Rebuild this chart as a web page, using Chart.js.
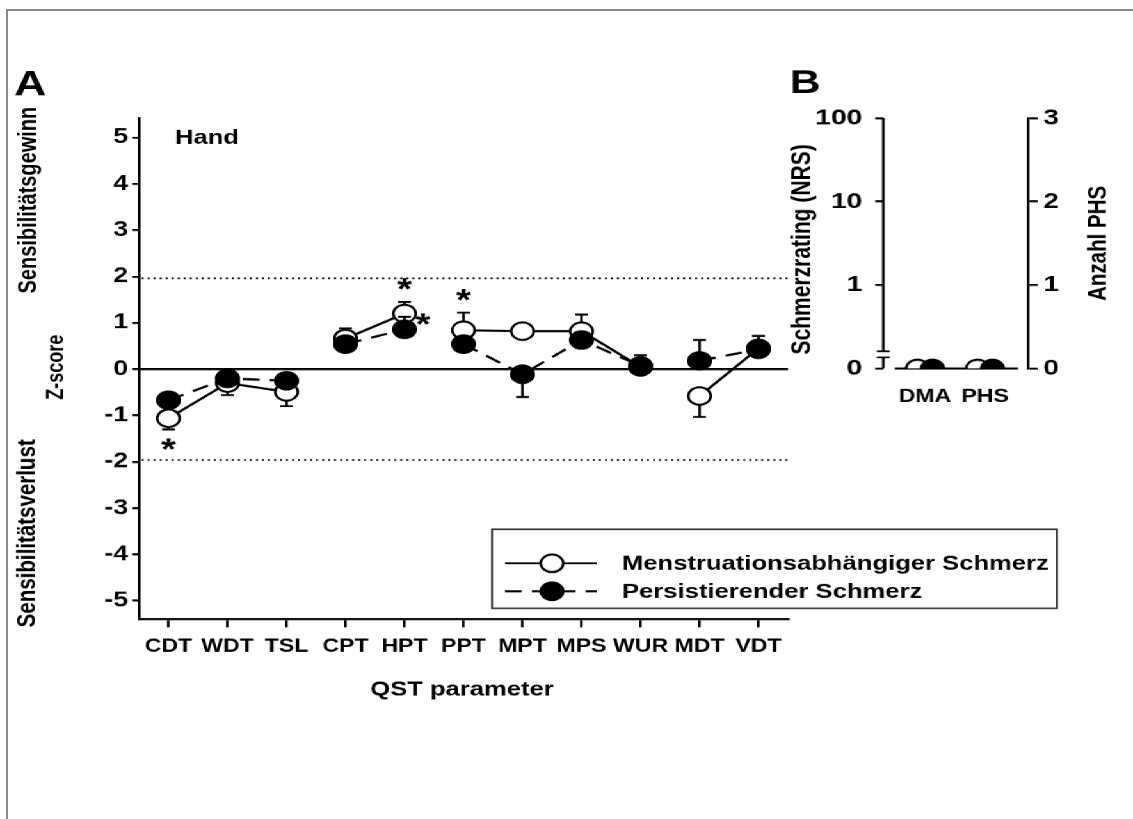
<!DOCTYPE html>
<html>
<head>
<meta charset="utf-8">
<script src="https://cdn.jsdelivr.net/npm/chart.js@4.4.0/dist/chart.umd.min.js"></script>
<style>
  html, body { margin: 0; padding: 0; background: #fff; }
  body { width: 1133px; height: 819px; overflow: hidden; position: relative; }
  #frame { position: absolute; left: 6px; top: 9px; width: 1200px; height: 900px;
           border-left: 2px solid #8a8a8a; border-top: 2px solid #8a8a8a; }
  #stage { position: absolute; left: 0; top: 0; width: 885px; height: 819px;
           transform: scaleX(1.2802); transform-origin: 0 0; }
  #cA { position: absolute; left: 0; top: 0; }
  #cB { position: absolute; left: 600px; top: 0; }
</style>
</head>
<body>
<div id="frame"></div>
<div id="stage">
  <canvas id="cA" width="885" height="819"></canvas>
  <canvas id="cB" width="285" height="420"></canvas>
</div>
<script>
// ---------------- data ----------------
const categories = ['CDT', 'WDT', 'TSL', 'CPT', 'HPT', 'PPT', 'MPT', 'MPS', 'WUR', 'MDT', 'VDT'];
const lineGroups = [1, 1, 1, 2, 2, 3, 3, 3, 3, 4, 4];
const menstrualMean = [-1.06, -0.30, -0.49, 0.66, 1.20, 0.84, 0.82, 0.82, 0.05, -0.58, 0.45];
const menstrualSem  = [0.24, 0.26, 0.31, 0.22, 0.25, 0.38, 0.10, 0.36, 0.10, 0.45, 0.10];
const persistentMean = [-0.67, -0.20, -0.25, 0.54, 0.86, 0.54, -0.11, 0.63, 0.07, 0.18, 0.43];
const persistentSem  = [0.10, 0.10, 0.10, 0.10, 0.27, 0.10, 0.49, 0.10, 0.23, 0.45, 0.29];
const zTicks = [-5, -4, -3, -2, -1, 0, 1, 2, 3, 4, 5];
const normLimits = [1.96, -1.96];
const seriesLabels = ['Menstruationsabhängiger Schmerz', 'Persistierender Schmerz'];
const significance = [
  { cat: 'CDT', series: 0, side: 'end' },
  { cat: 'HPT', series: 0, side: 'end' },
  { cat: 'HPT', series: 1, side: 'right' },
  { cat: 'PPT', series: 0, side: 'end' }
];

const bCategories = ['DMA', 'PHS'];
const bMenstrual = [0, 0];
const bPersistent = [0, 0];
const bLeftTicks = [0, 1, 2, 3];
const bLeftTickLabels = ['0', '1', '10', '100'];
const bRightTicks = [0, 1, 2, 3];
const bRightTickLabels = ['0', '1', '2', '3'];

// ---------------- layout / style ----------------
const FONT = '"Liberation Sans", Arial, Helvetica, sans-serif';
const K = 1133 / 885;              // horizontal stretch of the whole figure
const sx = v => v / K;             // page x -> stage x
const B_LEFT = 600;                // stage x of canvas B
const CAP = 5;
const R = 8.8;
const DASH = [13, 8];

// ---------------- panel A ----------------
const panelAPlugin = {
  id: 'panelA',
  beforeDatasetsDraw(chart) {
    const { ctx, chartArea: a, scales: { y } } = chart;
    ctx.save();
    ctx.strokeStyle = '#000';
    ctx.lineWidth = 2;
    const y0 = y.getPixelForValue(0);
    ctx.beginPath(); ctx.moveTo(a.left, y0); ctx.lineTo(a.right, y0); ctx.stroke();
    ctx.setLineDash([1.6, 3.1]);
    ctx.lineWidth = 1.8;
    normLimits.forEach(v => {
      const yy = y.getPixelForValue(v);
      ctx.beginPath(); ctx.moveTo(a.left + 2, yy); ctx.lineTo(a.right, yy); ctx.stroke();
    });
    ctx.restore();
  },
  beforeDatasetDraw(chart, args) {
    const ds = chart.data.datasets[args.index];
    if (!ds.errors) return;
    const { ctx, scales: { y } } = chart;
    ctx.save();
    ctx.strokeStyle = '#000';
    ctx.lineWidth = 2;
    ctx.setLineDash([]);
    args.meta.data.forEach((pt, j) => {
      const m = ds.data[j], e = ds.errors[j], dir = m >= 0 ? 1 : -1;
      const y1 = y.getPixelForValue(m), y2 = y.getPixelForValue(m + dir * e);
      ctx.beginPath();
      ctx.moveTo(pt.x, y1); ctx.lineTo(pt.x, y2);
      ctx.moveTo(pt.x - CAP, y2); ctx.lineTo(pt.x + CAP, y2);
      ctx.stroke();
    });
    ctx.restore();
  },
  afterDraw(chart) {
    const { ctx, scales: { x, y } } = chart;
    const dsets = chart.data.datasets;
    ctx.save();
    ctx.fillStyle = '#000';
    // panel letter
    ctx.font = `bold 35px ${FONT}`;
    ctx.textAlign = 'left'; ctx.textBaseline = 'alphabetic';
    ctx.fillText('A', sx(14), 95);
    // Hand
    ctx.font = `bold 20px ${FONT}`;
    ctx.fillText('Hand', sx(175), 144);
    // x title
    ctx.textAlign = 'center';
    ctx.font = `bold 20px ${FONT}`;
    ctx.fillText('QST parameter', sx(462), 695);
    // rotated titles
    const rot = (t, bx, cy, size) => {
      ctx.save();
      ctx.translate(bx, cy); ctx.rotate(-Math.PI / 2);
      ctx.font = `bold ${size}px ${FONT}`;
      ctx.textAlign = 'center'; ctx.textBaseline = 'alphabetic';
      ctx.fillText(t, 0, 0);
      ctx.restore();
    };
    rot('Sensibilitätsgewinn', sx(36), 200, 20);
    rot('Sensibilitätsverlust', sx(35), 533, 20.5);
    rot('Z-score', sx(63), 367, 18);
    // asterisks
    ctx.font = `bold 30px ${FONT}`;
    ctx.textAlign = 'center'; ctx.textBaseline = 'alphabetic';
    const mm = ctx.measureText('*');
    const asc = mm.actualBoundingBoxAscent, desc = mm.actualBoundingBoxDescent;
    const drawStar = (cx, cy) => ctx.fillText('*', cx, cy - (desc - asc) / 2);
    significance.forEach(s => {
      const j = categories.indexOf(s.cat);
      const ds = dsets[s.series];
      const m = ds.data[j], e = ds.errors[j], dir = m >= 0 ? 1 : -1;
      const px = x.getPixelForValue(j);
      if (s.side === 'end') {
        const yEnd = y.getPixelForValue(m + dir * e);
        drawStar(px, yEnd - dir * 16.5);
      } else {
        drawStar(px + 14.5, y.getPixelForValue(m) - 9);
      }
    });
    // legend
    ctx.strokeStyle = '#333';
    ctx.lineWidth = 1.5;
    ctx.strokeRect(sx(492), 529, sx(1057) - sx(492), 79);
    const rows = [563, 591];
    dsets.forEach((ds, i) => {
      const ly = rows[i];
      ctx.strokeStyle = '#000'; ctx.lineWidth = 2;
      ctx.setLineDash(ds.borderDash || []);
      ctx.beginPath(); ctx.moveTo(sx(505), ly); ctx.lineTo(sx(597), ly); ctx.stroke();
      ctx.setLineDash([]);
      ctx.beginPath(); ctx.arc(sx(552), ly, R, 0, Math.PI * 2);
      ctx.fillStyle = ds.pointBackgroundColor; ctx.fill();
      ctx.lineWidth = 2; ctx.stroke();
      ctx.fillStyle = '#000';
      ctx.font = `bold 20px ${FONT}`;
      ctx.textAlign = 'left'; ctx.textBaseline = 'middle';
      ctx.fillText(ds.label, sx(622), ly + 1);
    });
    ctx.restore();
  }
};

const segColor = c => lineGroups[c.p0DataIndex] === lineGroups[c.p1DataIndex] ? '#000' : 'rgba(0,0,0,0)';

new Chart(document.getElementById('cA'), {
  type: 'line',
  data: {
    labels: categories,
    datasets: [
      {
        label: seriesLabels[0], data: menstrualMean, errors: menstrualSem, order: 2,
        borderColor: '#000', borderWidth: 2.2, segment: { borderColor: segColor },
        pointRadius: R, pointBorderWidth: 2, pointBackgroundColor: '#fff', pointBorderColor: '#000',
        fill: false, tension: 0
      },
      {
        label: seriesLabels[1], data: persistentMean, errors: persistentSem, order: 1,
        borderColor: '#000', borderWidth: 2.2, borderDash: DASH, segment: { borderColor: segColor },
        pointRadius: R, pointBorderWidth: 2, pointBackgroundColor: '#000', pointBorderColor: '#000',
        fill: false, tension: 0
      }
    ]
  },
  options: {
    responsive: false, animation: false, devicePixelRatio: K, events: [],
    layout: { padding: { left: 0, top: 118, right: 885 - sx(788), bottom: 0 } },
    plugins: { legend: { display: false }, tooltip: { enabled: false } },
    scales: {
      x: {
        type: 'category', offset: true,
        afterFit: s => { s.height = 819 - 619; },
        grid: { display: true, drawOnChartArea: false, drawTicks: true, tickLength: 8, color: '#000', lineWidth: 2, offset: false },
        border: { display: true, color: '#000', width: 2 },
        ticks: { color: '#000', font: { family: FONT, size: 18, weight: 'bold' }, padding: 9, maxRotation: 0, autoSkip: false }
      },
      y: {
        type: 'linear', min: -5.4, max: 5.42,
        afterFit: s => { s.width = sx(139); },
        afterBuildTicks: s => { s.ticks = zTicks.map(v => ({ value: v })); },
        grid: { display: true, drawOnChartArea: false, drawTicks: true, tickLength: 5.5, color: '#000', lineWidth: 2 },
        border: { display: true, color: '#000', width: 2 },
        ticks: { color: '#000', font: { family: FONT, size: 21, weight: 'bold' }, padding: 3, callback: v => String(v) }
      }
    }
  },
  plugins: [panelAPlugin]
});

// ---------------- panel B ----------------
const bDodge = 0.125;
const bAreaLeft = sx(883) - B_LEFT;
const bAreaRight = sx(1027) - B_LEFT;

const panelBPlugin = {
  id: 'panelB',
  beforeDatasetsDraw(chart) {
    const { ctx, chartArea: a, scales: { x, y } } = chart;
    ctx.save();
    ctx.strokeStyle = '#000';
    ctx.lineWidth = 2;
    // left axis with break
    const yTop = y.getPixelForValue(3), yBot = y.getPixelForValue(0);
    const yBrk = y.getPixelForValue(0.17);
    ctx.beginPath();
    ctx.moveTo(a.left, yTop); ctx.lineTo(a.left, yBrk - 3.5);
    ctx.moveTo(a.left, yBrk + 3.5); ctx.lineTo(a.left, yBot);
    ctx.stroke();
    ctx.lineWidth = 1.8;
    ctx.beginPath();
    ctx.moveTo(a.left - 5, yBrk - 3); ctx.lineTo(a.left + 5, yBrk - 3);
    ctx.moveTo(a.left - 5, yBrk + 3); ctx.lineTo(a.left + 5, yBrk + 3);
    ctx.stroke();
    // baseline through the points
    ctx.lineWidth = 2;
    ctx.beginPath();
    ctx.moveTo(x.getPixelForValue(-0.5), yBot); ctx.lineTo(x.getPixelForValue(1.55), yBot);
    ctx.stroke();
    ctx.restore();
  },
  afterDraw(chart) {
    const { ctx } = chart;
    ctx.save();
    ctx.fillStyle = '#000';
    ctx.font = `bold 33px ${FONT}`;
    ctx.textAlign = 'left'; ctx.textBaseline = 'alphabetic';
    ctx.fillText('B', sx(790) - B_LEFT, 93);
    const rot = (t, bx, cy, size) => {
      ctx.save();
      ctx.translate(bx, cy); ctx.rotate(-Math.PI / 2);
      ctx.font = `bold ${size}px ${FONT}`;
      ctx.textAlign = 'center'; ctx.textBaseline = 'alphabetic';
      ctx.fillText(t, 0, 0);
      ctx.restore();
    };
    rot('Schmerzrating (NRS)', sx(810) - B_LEFT, 249, 21);
    rot('Anzahl PHS', sx(1105) - B_LEFT, 243, 20.5);
    ctx.restore();
  }
};

new Chart(document.getElementById('cB'), {
  type: 'line',
  data: {
    datasets: [
      {
        label: seriesLabels[0], order: 2, showLine: false,
        data: bMenstrual.map((v, i) => ({ x: i - bDodge, y: v })),
        pointRadius: R, pointBorderWidth: 2, pointBackgroundColor: '#fff', pointBorderColor: '#000'
      },
      {
        label: seriesLabels[1], order: 1, showLine: false,
        data: bPersistent.map((v, i) => ({ x: i + bDodge, y: v })),
        pointRadius: R, pointBorderWidth: 2, pointBackgroundColor: '#000', pointBorderColor: '#000'
      }
    ]
  },
  options: {
    responsive: false, animation: false, devicePixelRatio: K, events: [],
    layout: { padding: { left: 0, top: 118, right: 0, bottom: 0 } },
    plugins: { legend: { display: false }, tooltip: { enabled: false } },
    scales: {
      x: {
        type: 'linear', min: -0.694, max: 1.709,
        afterFit: s => { s.height = 420 - 368; },
        afterBuildTicks: s => { s.ticks = bCategories.map((c, i) => ({ value: i })); },
        grid: { display: false, drawTicks: false },
        border: { display: false },
        ticks: { color: '#000', font: { family: FONT, size: 18, weight: 'bold' }, padding: 18,
                 callback: (v, i) => bCategories[i] }
      },
      y: {
        type: 'linear', position: 'left', min: 0, max: 3,
        afterFit: s => { s.width = bAreaLeft; },
        afterBuildTicks: s => { s.ticks = bLeftTicks.map(v => ({ value: v })); },
        grid: { display: true, drawOnChartArea: false, drawTicks: true, tickLength: 6.3, color: '#000', lineWidth: 2 },
        border: { display: false },
        ticks: { color: '#000', font: { family: FONT, size: 22, weight: 'bold' }, padding: 10,
                 callback: (v, i) => bLeftTickLabels[i] }
      },
      yR: {
        type: 'linear', position: 'right', min: 0, max: 3,
        afterFit: s => { s.width = 285 - bAreaRight; },
        afterBuildTicks: s => { s.ticks = bRightTicks.map(v => ({ value: v })); },
        grid: { display: true, drawOnChartArea: false, drawTicks: true, tickLength: 7.8, color: '#000', lineWidth: 2 },
        border: { display: true, color: '#000', width: 2 },
        ticks: { color: '#000', font: { family: FONT, size: 22, weight: 'bold' }, padding: 4.5,
                 callback: (v, i) => bRightTickLabels[i] }
      }
    }
  },
  plugins: [panelBPlugin]
});
</script>
</body>
</html>
